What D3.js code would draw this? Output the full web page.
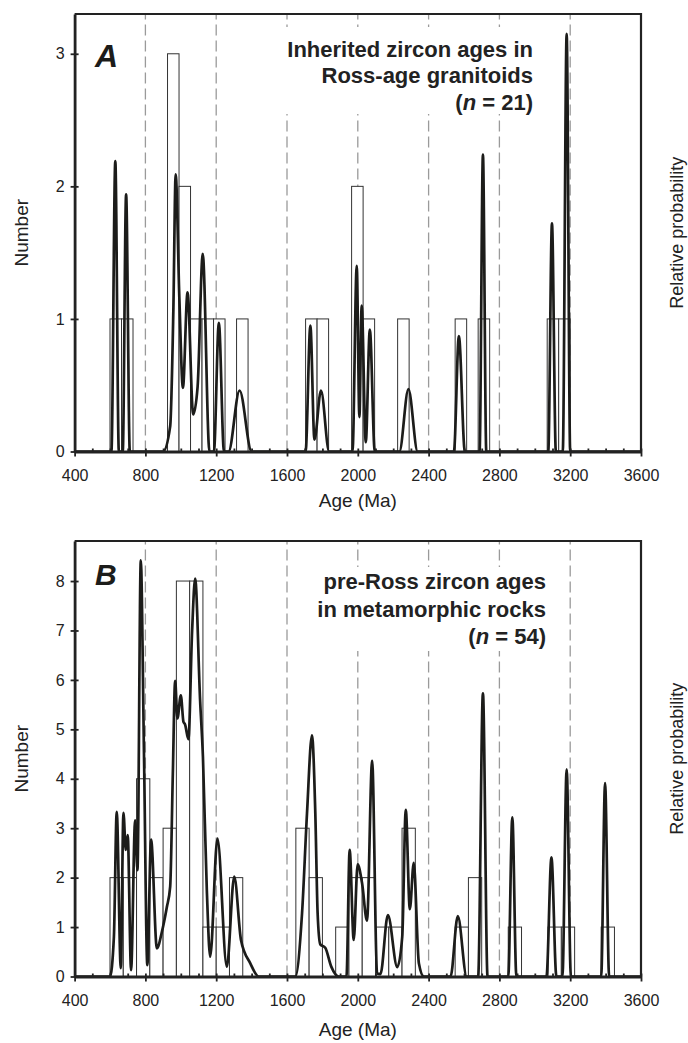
<!DOCTYPE html>
<html>
<head>
<meta charset="utf-8">
<script src="https://cdn.jsdelivr.net/npm/d3@7"></script>
<style>
  body { margin: 0; background: #fff; }
  svg { display: block; font-family: "Liberation Sans", Arial, Helvetica, sans-serif; }
</style>
</head>
<body>
<svg id="chart" width="688" height="1043"></svg>
<script>
// ---- data ----
const ageTicks = [400, 800, 1200, 1600, 2000, 2400, 2800, 3200, 3600];
const dashedAges = [800, 1200, 1600, 2000, 2400, 2800, 3200];

// panel A: histogram (bin width 65 Ma) and probability curve
const binWidthA = 65;
const binStartA = [600, 665, 925, 990, 1055, 1120, 1185, 1315, 1705, 1770, 1965, 2030, 2225, 2550, 2680, 3070, 3135];
const countA    = [1,   1,   3,   2,   1,    1,    1,    1,    1,    1,    2,    1,    1,    1,    1,    1,    1];
const countTicksA = [0, 1, 2, 3];
const curveA = [
  [400, 0], [608, 0], [630, 2.19], [650, 0], [672, 0], [691, 1.94], [712, 0],
  [900, 0], [940, 0.19], [958, 1.07], [971, 2.09], [992, 1.15], [1012, 0.48], [1038, 1.2],
  [1070, 0.28], [1095, 0.49], [1124, 1.49], [1162, 0], [1187, 0], [1215, 0.97], [1244, 0],
  [1270, 0], [1332, 0.46], [1400, 0],
  [1705, 0], [1732, 0.95], [1755, 0.09], [1792, 0.46], [1838, 0],
  [1970, 0], [1994, 1.4], [2009, 0.26], [2022, 1.1], [2045, 0.07], [2068, 0.92], [2096, 0],
  [2235, 0], [2286, 0.47], [2338, 0],
  [2543, 0], [2571, 0.87], [2605, 0],
  [2688, 0], [2707, 2.24], [2726, 0],
  [3076, 0], [3097, 1.72], [3119, 0],
  [3158, 0], [3180, 3.15], [3200, 0], [3600, 0]
];

// panel B: histogram (bin width 75 Ma) and probability curve
const binWidthB = 75;
const binStartB = [600, 675, 750, 825, 900, 975, 1050, 1125, 1200, 1275, 1650, 1725, 1875, 1950, 2025, 2100, 2175, 2250, 2550, 2625, 2850, 3075, 3150, 3375];
const countB    = [2,   2,   4,   2,   3,   8,   8,    1,    1,    2,    3,    2,    1,    2,    2,    1,    1,    3,    1,    2,    1,    1,    1,    1];
const countTicksB = [0, 1, 2, 3, 4, 5, 6, 7, 8];
const curveB = [
  [400, 0], [600, 0], [622, 0.8], [638, 3.33], [661, 0.17], [676, 3.31], [689, 2.56], [700, 2.86],
  [719, 0.13], [742, 3.16], [755, 2.15], [774, 8.42], [792, 4.5], [811, 0.23], [832, 2.77],
  [865, 0.57], [893, 0.9], [921, 1.4], [940, 1.82], [955, 4.1], [968, 5.98], [981, 5.22],
  [1000, 5.69], [1015, 5.15], [1024, 5.1], [1043, 4.8], [1064, 7.0], [1081, 8.05], [1109, 5.59],
  [1125, 4.45], [1147, 1.75], [1166, 0.4], [1207, 2.79], [1260, 0.2], [1302, 2.02], [1340, 0.74],
  [1392, 0.27], [1440, 0],
  [1647, 0], [1685, 1.28], [1713, 3.3], [1741, 4.88], [1760, 3.3], [1773, 1.28], [1788, 0.65],
  [1816, 0.58], [1850, 0.2], [1892, 0],
  [1936, 0], [1954, 2.56], [1977, 0.74], [1999, 2.27], [2024, 1.89], [2052, 1.13], [2081, 4.36],
  [2109, 0.06], [2128, 0.05], [2170, 1.24], [2223, 0.19], [2251, 0.8], [2271, 3.37], [2294, 1.36],
  [2316, 2.3], [2345, 0.27], [2373, 0],
  [2524, 0], [2565, 1.22], [2615, 0],
  [2680, 0], [2707, 5.73], [2733, 0],
  [2850, 0], [2873, 3.22], [2896, 0],
  [3066, 0], [3094, 2.41], [3122, 0],
  [3156, 0], [3180, 4.19], [3204, 0],
  [3375, 0], [3397, 3.91], [3420, 0], [3600, 0]
];

const svg = d3.select("#chart");
const x = d3.scaleLinear().domain([400, 3600]).range([74.6, 641]);

function drawPanel(p) {
  const y = d3.scaleLinear().domain([0, p.yMax]).range([p.bottom, p.top]);
  const g = svg.append("g");

  // dashed reference lines
  g.selectAll("line.dash")
    .data(dashedAges)
    .join("line")
    .attr("x1", d => x(d)).attr("x2", d => x(d))
    .attr("y1", p.bottom).attr("y2", p.top)
    .attr("stroke", "#9a9a9a")
    .attr("stroke-width", 1.3)
    .attr("stroke-dasharray", "11,5");

  // white box behind the title text
  g.append("rect")
    .attr("x", p.box[0]).attr("y", p.box[1])
    .attr("width", p.box[2]).attr("height", p.box[3])
    .attr("fill", "#fff");

  // histogram bars
  g.selectAll("rect.bar")
    .data(p.starts.map((s, i) => ({ s, c: p.counts[i] })))
    .join("rect")
    .attr("class", "bar")
    .attr("x", d => x(d.s))
    .attr("width", d => x(d.s + p.binWidth) - x(d.s))
    .attr("y", d => y(d.c))
    .attr("height", d => y(0) - y(d.c))
    .attr("fill", "#fff")
    .attr("stroke", "#333")
    .attr("stroke-width", 1);

  // probability curve
  const line = d3.line()
    .x(d => x(d[0]))
    .y(d => y(d[1]))
    .curve(d3.curveMonotoneX);
  g.append("path")
    .datum(p.curve)
    .attr("d", line)
    .attr("fill", "none")
    .attr("stroke", "#1c1c1a")
    .attr("stroke-width", 2.7)
    .attr("stroke-linejoin", "round");

  // frame (top & right)
  g.append("path")
    .attr("d", `M${x(400)},${p.top}H${x(3600)}V${p.bottom}`)
    .attr("fill", "none")
    .attr("stroke", "#222")
    .attr("stroke-width", 2.2);

  // minor ticks every 100 Ma
  const minor = d3.range(500, 3600, 100).filter(v => v % 400 !== 0);
  g.append("g")
    .attr("transform", `translate(0,${p.bottom})`)
    .call(d3.axisBottom(x).tickValues(minor).tickSize(-3).tickFormat(""))
    .call(a => a.select(".domain").remove())
    .call(a => a.selectAll("line").attr("stroke", "#222").attr("stroke-width", 1.8));

  // bottom axis
  const xa = g.append("g")
    .attr("transform", `translate(0,${p.bottom})`)
    .call(d3.axisBottom(x).tickValues(ageTicks).tickSize(5).tickPadding(13)
      .tickSizeOuter(0).tickFormat(d3.format("d")));
  xa.select(".domain").attr("stroke", "#222").attr("stroke-width", 2.8);
  xa.selectAll(".tick line").attr("y1", -3).attr("stroke", "#222").attr("stroke-width", 1.8);
  xa.selectAll(".tick text")
    .attr("font-size", 16).attr("fill", "#222")
    .attr("font-family", "'Liberation Sans', Arial, sans-serif");

  // left axis
  const ya = g.append("g")
    .attr("transform", `translate(${x(400)},0)`)
    .call(d3.axisLeft(y).tickValues(p.ticks).tickSize(4).tickPadding(6).tickSizeOuter(0).tickFormat(d3.format("d")));
  ya.select(".domain").attr("stroke", "#222").attr("stroke-width", 2.8);
  ya.selectAll(".tick line").attr("x1", 4).attr("stroke", "#222").attr("stroke-width", 1.8);
  ya.selectAll(".tick text")
    .attr("font-size", 16).attr("fill", "#222")
    .attr("font-family", "'Liberation Sans', Arial, sans-serif");

  // panel letter
  g.append("text")
    .attr("x", 95).attr("y", p.letterY)
    .attr("font-size", p.letterSize).attr("font-weight", "bold").attr("font-style", "italic")
    .attr("fill", "#1c1c1a")
    .text(p.letter);

  // title block
  const t = g.append("text")
    .attr("text-anchor", "end")
    .attr("font-size", 22).attr("font-weight", "bold").attr("fill", "#222");
  p.title.forEach((s, i) => {
    t.append("tspan").attr("x", p.titleX).attr("y", p.titleY + i * p.titleStep).text(s);
  });
  t.append("tspan").attr("x", p.titleX).attr("y", p.titleY + 2 * p.titleStep).text("(");
  t.append("tspan").attr("font-style", "italic").text("n");
  t.append("tspan").text(` = ${p.n})`);

  // axis titles
  const mid = (p.top + p.bottom) / 2;
  g.append("text")
    .attr("transform", `translate(28,${mid}) rotate(-90)`)
    .attr("text-anchor", "middle")
    .attr("font-size", 19).attr("fill", "#222")
    .text("Number");
  g.append("text")
    .attr("transform", `translate(683,${mid}) rotate(-90)`)
    .attr("text-anchor", "middle")
    .attr("font-size", 18).attr("fill", "#222")
    .text("Relative probability");
  g.append("text")
    .attr("x", (x(400) + x(3600)) / 2).attr("y", p.ageLabelY)
    .attr("text-anchor", "middle")
    .attr("font-size", 19).attr("fill", "#222")
    .text("Age (Ma)");
}

drawPanel({
  top: 14, bottom: 451.5, yMax: 3.3, ticks: countTicksA,
  starts: binStartA, counts: countA, binWidth: binWidthA, curve: curveA,
  box: [278, 27, 262, 87],
  letter: "A", letterY: 66.5, letterSize: 32,
  title: ["Inherited zircon ages in", "Ross-age granitoids"], n: 21,
  titleX: 533, titleY: 56.5, titleStep: 26.5,
  ageLabelY: 507
});

drawPanel({
  top: 541, bottom: 976.5, yMax: 8.81, ticks: countTicksB,
  starts: binStartB, counts: countB, binWidth: binWidthB, curve: curveB,
  box: [310, 567, 242, 84],
  letter: "B", letterY: 585, letterSize: 30,
  title: ["pre-Ross zircon ages", "in metamorphic rocks"], n: 54,
  titleX: 546, titleY: 589, titleStep: 27.5,
  ageLabelY: 1036
});
</script>
</body>
</html>
